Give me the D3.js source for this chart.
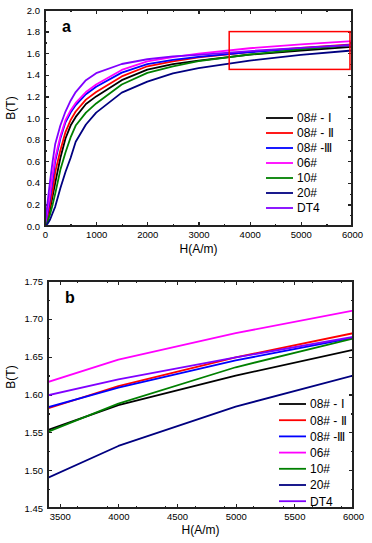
<!DOCTYPE html>
<html>
  <head>
    <script src="https://d3js.org/d3.v7.min.js"></script>
    <style>
    body { margin: 0; background: #fff; }
    text { font-family: "Liberation Sans", Arial, sans-serif; fill: #000; }
    .axis path, .axis line { stroke: #222; stroke-width: 1.2; shape-rendering: crispEdges; }
    .axis text { font-size: 9.5px; }
    .frame { fill: none; stroke: #222; stroke-width: 1.2; shape-rendering: crispEdges; }
    .curve { fill: none; stroke-width: 1.8; stroke-linejoin: round; }
    .legend text { font-size: 12px; }
    .title { font-size: 12px; }
    .panel { font-size: 16px; font-weight: bold; }
    </style>
  </head>
  <body>
    <script>

    // magnetic field strength H (A/m), shared by all curves
    var H = [0, 50, 100, 150, 200, 300, 400, 500, 600, 800, 1000, 1500, 2000, 2500, 3000, 4000, 5000, 6000];

    // flux density B (T) for each steel
    var b08_1 = [0, 0.06, 0.16, 0.28, 0.40, 0.63, 0.81, 0.93, 1.01, 1.13, 1.20, 1.35, 1.448, 1.498, 1.531, 1.586, 1.625, 1.659];
    var b08_2 = [0, 0.08, 0.20, 0.33, 0.50, 0.70, 0.87, 0.98, 1.06, 1.17, 1.24, 1.385, 1.479, 1.525, 1.562, 1.611, 1.649, 1.681];
    var b08_3 = [0, 0.12, 0.26, 0.43, 0.60, 0.81, 0.96, 1.05, 1.12, 1.22, 1.29, 1.42, 1.498, 1.538, 1.566, 1.609, 1.645, 1.675];
    var b06   = [0, 0.15, 0.30, 0.48, 0.63, 0.83, 0.98, 1.07, 1.14, 1.24, 1.31, 1.445, 1.525, 1.563, 1.597, 1.646, 1.681, 1.711];
    var b10   = [0, 0.04, 0.11, 0.20, 0.30, 0.52, 0.68, 0.82, 0.93, 1.05, 1.135, 1.31, 1.418, 1.478, 1.526, 1.588, 1.636, 1.674];
    var b20   = [0, 0.02, 0.06, 0.12, 0.18, 0.35, 0.50, 0.63, 0.78, 0.94, 1.05, 1.235, 1.337, 1.414, 1.462, 1.532, 1.584, 1.625];
    var bDT4  = [0, 0.22, 0.42, 0.60, 0.76, 0.93, 1.06, 1.16, 1.24, 1.35, 1.415, 1.50, 1.544, 1.570, 1.585, 1.620, 1.649, 1.676];

    var names = ["08# - \u2160", "08# - \u2161", "08# -\u2162", "06#", "10#", "20#", "DT4"];
    var colors = ["#000000", "#ff0000", "#0000ff", "#ff00ff", "#008000", "#000080", "#8000ff"];
    var values = [b08_1, b08_2, b08_3, b06, b10, b20, bDT4];

    // zoom window marked on panel a
    var zoomBox = { h0: 3600, h1: 5960, b0: 1.45, b1: 1.80 };

    var series = names.map(function(n, i) {
      return { name: n, color: colors[i], pts: H.map(function(h, j) { return [h, values[i][j]]; }) };
    });

    var svg = d3.select("body").append("svg")
      .attr("width", 372)
      .attr("height", 543);

    function panel(opt) {
      var x = d3.scaleLinear().domain(opt.xDomain).range([opt.left, opt.right]);
      var y = d3.scaleLinear().domain(opt.yDomain).range([opt.bottom, opt.top]);
      var g = svg.append("g");

      g.append("clipPath").attr("id", "clip-" + opt.id)
        .append("rect")
        .attr("x", opt.left).attr("y", opt.top)
        .attr("width", opt.right - opt.left).attr("height", opt.bottom - opt.top);

      // minor ticks, inward on all four sides
      var minorX = d3.range(opt.xDomain[0], opt.xDomain[1] + 1e-9, opt.xMinor);
      var minorY = d3.range(opt.yDomain[0], opt.yDomain[1] + 1e-9, opt.yMinor);
      g.append("g").attr("class", "axis").attr("transform", "translate(0," + opt.bottom + ")")
        .call(d3.axisBottom(x).tickValues(minorX).tickSize(-2).tickFormat(""));
      g.append("g").attr("class", "axis").attr("transform", "translate(0," + opt.top + ")")
        .call(d3.axisTop(x).tickValues(minorX).tickSize(-2).tickFormat(""));
      g.append("g").attr("class", "axis").attr("transform", "translate(" + opt.left + ",0)")
        .call(d3.axisLeft(y).tickValues(minorY).tickSize(-2).tickFormat(""));
      g.append("g").attr("class", "axis").attr("transform", "translate(" + opt.right + ",0)")
        .call(d3.axisRight(y).tickValues(minorY).tickSize(-2).tickFormat(""));

      // major ticks with labels
      g.append("g").attr("class", "axis").attr("transform", "translate(0," + opt.bottom + ")")
        .call(d3.axisBottom(x).tickValues(opt.xTicks).tickSizeInner(-4).tickSizeOuter(0).tickPadding(5).tickFormat(d3.format("d")));
      g.append("g").attr("class", "axis").attr("transform", "translate(0," + opt.top + ")")
        .call(d3.axisTop(x).tickValues(opt.xTicks).tickSizeInner(-4).tickSizeOuter(0).tickFormat(""));
      g.append("g").attr("class", "axis").attr("transform", "translate(" + opt.left + ",0)")
        .call(d3.axisLeft(y).tickValues(opt.yTicks).tickSizeInner(-4).tickSizeOuter(0).tickPadding(5).tickFormat(d3.format(opt.yFmt)));
      g.append("g").attr("class", "axis").attr("transform", "translate(" + opt.right + ",0)")
        .call(d3.axisRight(y).tickValues(opt.yTicks).tickSizeInner(-4).tickSizeOuter(0).tickFormat(""));
      g.selectAll(".axis .domain").remove();

      var line = d3.line()
        .x(function(d) { return x(d[0]); })
        .y(function(d) { return y(d[1]); });

      g.append("g").attr("clip-path", "url(#clip-" + opt.id + ")")
        .selectAll("path")
        .data(series)
        .enter()
        .append("path")
        .attr("class", "curve")
        .attr("stroke", function(d) { return d.color; })
        .attr("d", function(d) { return line(d.pts); });

      g.append("rect").attr("class", "frame")
        .attr("x", opt.left).attr("y", opt.top)
        .attr("width", opt.right - opt.left).attr("height", opt.bottom - opt.top);

      if (opt.box) {
        g.append("rect")
          .attr("x", x(opt.box.h0)).attr("y", y(opt.box.b1))
          .attr("width", x(opt.box.h1) - x(opt.box.h0))
          .attr("height", y(opt.box.b0) - y(opt.box.b1))
          .attr("fill", "none").attr("stroke", "#ff0000").attr("stroke-width", 1.5);
      }

      // legend
      var lg = g.append("g").attr("class", "legend");
      series.forEach(function(s, i) {
        var ly = opt.legY + i * opt.legStep;
        lg.append("line")
          .attr("x1", opt.legX).attr("x2", opt.legX + 27)
          .attr("y1", ly).attr("y2", ly)
          .attr("stroke", s.color).attr("stroke-width", 1.8);
        lg.append("text")
          .attr("x", opt.legX + 31).attr("y", ly).attr("dy", "0.36em")
          .text(s.name);
      });

      g.append("text").attr("class", "panel")
        .attr("x", opt.left + 17).attr("y", opt.top + 22)
        .text(opt.id);

      g.append("text").attr("class", "title")
        .attr("x", (opt.left + opt.right) / 2).attr("y", opt.xTitleY)
        .attr("text-anchor", "middle")
        .text("H(A/m)");
      g.append("text").attr("class", "title")
        .attr("transform", "translate(" + 15 + "," + opt.yTitleY + ") rotate(-90)")
        .attr("text-anchor", "middle")
        .text("B(T)");
    }

    panel({
      id: "a", left: 45, right: 352, top: 10, bottom: 226,
      xDomain: [0, 6000], yDomain: [0, 2.0],
      xTicks: d3.range(0, 6001, 1000), xMinor: 500,
      yTicks: d3.range(0, 2.01, 0.2), yMinor: 0.1, yFmt: ".1f",
      box: zoomBox,
      legX: 266, legY: 118, legStep: 15,
      xTitleY: 253, yTitleY: 108
    });

    panel({
      id: "b", left: 48, right: 353, top: 281, bottom: 508,
      xDomain: [3400, 6000], yDomain: [1.45, 1.75],
      xTicks: d3.range(3500, 6001, 500), xMinor: 250,
      yTicks: d3.range(1.45, 1.751, 0.05), yMinor: 0.025, yFmt: ".2f",
      legX: 279, legY: 404, legStep: 16.2,
      xTitleY: 534, yTitleY: 377
    });

    </script>
  </body>
</html>
